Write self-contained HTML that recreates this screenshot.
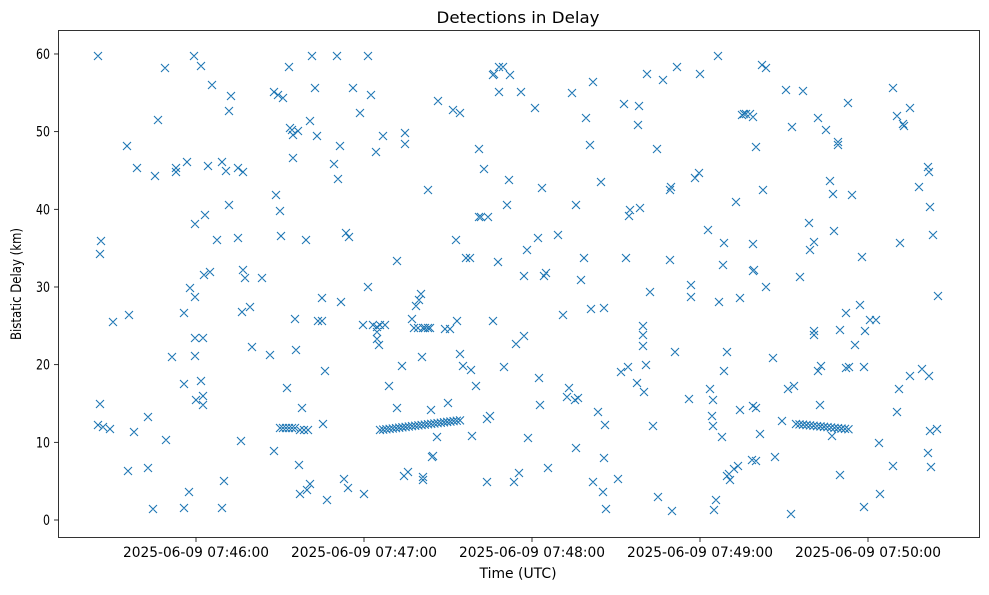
<!DOCTYPE html>
<html><head><meta charset="utf-8"><style>
body{margin:0;background:#fff;width:989px;height:590px;overflow:hidden;font-family:"Liberation Sans","DejaVu Sans",sans-serif}
svg text{font-family:"DejaVu Sans","Liberation Sans",sans-serif;fill:#000}
</style></head><body>
<svg id="s" width="989" height="590" xmlns="http://www.w3.org/2000/svg">
<rect x="0" y="0" width="989" height="590" fill="#fff"/>
<text x="518" y="23" font-size="16" text-anchor="middle" textLength="163" lengthAdjust="spacingAndGlyphs">Detections in Delay</text>
<text x="518" y="578" font-size="14" text-anchor="middle" textLength="77" lengthAdjust="spacingAndGlyphs">Time (UTC)</text>
<text x="21" y="284" font-size="14" text-anchor="middle" textLength="112" lengthAdjust="spacingAndGlyphs" transform="rotate(-90 21 284)">Bistatic Delay (km)</text>
<g id="ticks" stroke="#000" stroke-width="0.8"></g>
<g id="tl" font-size="14"></g>
<g id="pts" stroke="#1f77b4" stroke-width="1.1" fill="none"></g>
<rect x="58.5" y="30.5" width="921" height="507" fill="none" stroke="#000" stroke-width="0.8"/>
</svg>
<script>
var ns="http://www.w3.org/2000/svg";
function el(p,t,a,txt){var e=document.createElementNS(ns,t);for(var k in a)e.setAttribute(k,a[k]);if(txt)e.textContent=txt;document.getElementById(p).appendChild(e);}
for(var v=0;v<=60;v+=10){var y=520-v*7.767;el('ticks','line',{x1:54,x2:58.5,y1:y,y2:y});el('tl','text',{x:50,y:y+5,'text-anchor':'end',textLength:(v==0?7:14),lengthAdjust:'spacingAndGlyphs'},String(v));}
var xs=[196,364,532,700,868],lb=["07:46:00","07:47:00","07:48:00","07:49:00","07:50:00"];
for(var i=0;i<5;i++){el('ticks','line',{x1:xs[i],x2:xs[i],y1:537.5,y2:542});el('tl','text',{x:xs[i],y:557,'text-anchor':'middle',textLength:146,lengthAdjust:'spacingAndGlyphs'},"2025-06-09 "+lb[i]);}
var P=[[98,56],[101,241],[100,254],[100,404],[98,425],[103,427],[110,429],[113,322],[127,146],[129,315],[128,471],[137,168],[134,432],[148,417],[148,468],[155,176],[158,120],[153,509],[165,68],[166,440],[172,357],[176,168],[176,172],[184,313],[184,384],[184,508],[187,162],[189,492],[190,288],[194,56],[195,224],[195,338],[195,356],[195,297],[196,400],[201,66],[201,381],[203,396],[203,405],[203,338],[204,275],[205,215],[208,166],[210,272],[212,85],[217,240],[222,508],[222,162],[224,481],[226,171],[229,111],[229,205],[231,96],[238,168],[238,238],[241,441],[242,312],[243,270],[245,278],[243,172],[250,307],[252,347],[262,278],[270,355],[274,451],[274,92],[276,195],[278,95],[280,211],[281,236],[283,98],[287,388],[289,67],[290,128],[293,135],[293,158],[292,130],[295,319],[296,350],[298,131],[299,465],[300,494],[302,408],[306,240],[307,490],[310,484],[310,121],[312,56],[315,88],[317,136],[318,321],[322,321],[322,298],[323,424],[325,371],[327,500],[334,164],[337,56],[338,179],[340,146],[341,302],[346,233],[349,237],[344,479],[348,488],[353,88],[360,113],[363,325],[364,494],[368,56],[368,287],[371,95],[373,325],[376,152],[377,327],[377,332],[377,339],[379,345],[380,325],[383,136],[385,325],[389,386],[397,408],[397,261],[402,366],[404,476],[405,133],[405,144],[408,472],[412,319],[414,328],[416,306],[418,328],[419,300],[421,294],[423,480],[423,477],[422,357],[423,328],[425,328],[428,328],[430,328],[431,410],[432,457],[433,456],[428,190],[437,437],[438,101],[445,329],[448,403],[450,329],[453,110],[456,240],[457,321],[460,113],[460,354],[463,366],[466,258],[470,258],[472,436],[471,370],[476,386],[479,149],[479,217],[481,217],[484,169],[487,419],[487,482],[488,217],[490,416],[493,75],[494,74],[493,321],[498,262],[499,67],[499,92],[503,67],[504,367],[507,205],[509,180],[510,75],[514,482],[516,344],[519,473],[521,92],[524,336],[524,276],[527,250],[528,438],[535,108],[538,238],[539,378],[540,405],[542,188],[544,276],[546,273],[548,468],[558,235],[563,315],[567,397],[569,388],[572,93],[575,400],[576,205],[578,398],[576,448],[581,280],[584,258],[586,118],[590,145],[593,82],[591,309],[593,482],[598,412],[601,182],[604,308],[603,492],[604,458],[605,425],[606,509],[618,479],[621,372],[624,104],[626,258],[628,367],[629,216],[630,210],[637,383],[638,125],[639,106],[640,208],[643,335],[643,326],[643,346],[644,392],[646,365],[647,74],[650,292],[653,426],[657,149],[658,497],[663,80],[670,260],[670,190],[671,187],[672,511],[675,352],[677,67],[689,399],[691,285],[691,297],[695,178],[699,173],[700,74],[708,230],[710,389],[712,416],[713,426],[713,400],[714,510],[716,500],[718,56],[719,302],[722,437],[723,265],[724,371],[724,243],[727,352],[727,476],[729,474],[730,480],[734,469],[736,202],[738,466],[740,410],[740,298],[742,115],[744,114],[746,114],[750,114],[753,117],[753,244],[753,406],[753,271],[752,460],[754,270],[756,461],[756,147],[756,408],[760,434],[762,65],[763,190],[766,68],[766,287],[773,358],[775,457],[782,421],[786,90],[788,389],[792,127],[794,386],[791,514],[800,277],[803,91],[810,250],[809,223],[814,331],[814,335],[814,242],[818,118],[818,371],[820,405],[821,366],[826,130],[830,181],[833,194],[834,231],[832,436],[838,142],[838,145],[840,330],[840,475],[846,313],[846,368],[848,103],[849,367],[852,195],[855,345],[860,305],[862,257],[864,507],[864,367],[865,331],[870,320],[876,320],[879,443],[880,494],[893,88],[893,466],[897,116],[897,412],[899,389],[900,243],[903,124],[904,126],[910,108],[910,376],[919,187],[922,369],[928,167],[928,453],[929,172],[929,376],[930,207],[931,467],[930,431],[933,235],[938,296],[937,429]];
for(var x=280;x<=296;x+=3)P.push([x,428]);
for(var x=300;x<=310;x+=4)P.push([x,430]);
for(var x=380;x<=462;x+=3.2)P.push([x,430-(x-380)*0.12]);
for(var x=796;x<=850;x+=3.5)P.push([x,424+(x-796)*0.1]);
var d="";P.forEach(function(p){var x=p[0],y=p[1];d+="M"+(x-4)+" "+(y-4)+"L"+(x+4)+" "+(y+4)+"M"+(x-4)+" "+(y+4)+"L"+(x+4)+" "+(y-4);});
el('pts','path',{d:d});
</script>
</body></html>
